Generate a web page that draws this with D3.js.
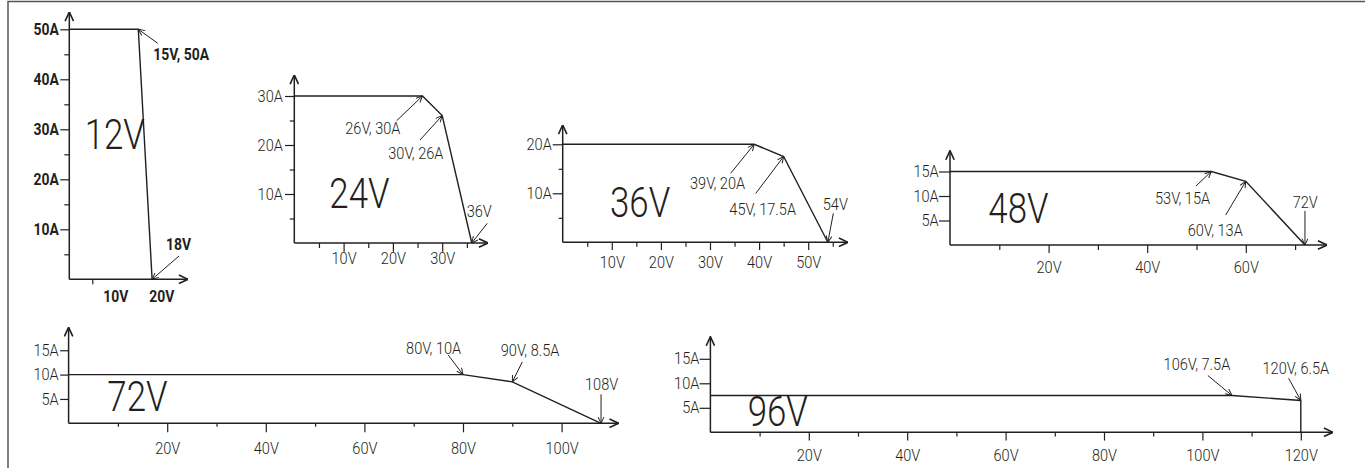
<!DOCTYPE html>
<html>
<head>
<meta charset="utf-8">
<script src="https://cdn.jsdelivr.net/npm/d3@7"></script>
<style>
    html, body { margin: 0; padding: 0; background: #fff; }
    svg { display: block; }
    text {
        font-family: Roboto, "Liberation Sans", sans-serif;
        font-size: 16px;
        font-weight: 300;
        fill: #231f20;
    }
    .bold text { font-weight: bold; }
    text.big { font-size: 42px; font-weight: 300; }
</style>
</head>
<body>
<svg id="chart" width="1365" height="468"></svg>
<script>
(function (d3) {
    'use strict';

    // Output voltage of each supply (panel label)
    var panelNames = ['12V', '24V', '36V', '48V', '72V', '96V'];

    // V/I curves, [volts, amps]
    var curve12 = [[0, 50], [15, 50], [18, 0]];
    var curve24 = [[0, 30], [26, 30], [30, 26], [36, 0]];
    var curve36 = [[0, 20], [39, 20], [45, 17.5], [54, 0]];
    var curve48 = [[0, 15], [53, 15], [60, 13], [72, 0]];
    var curve72 = [[0, 10], [80, 10], [90, 8.5], [108, 0]];
    var curve96 = [[0, 7.5], [106, 7.5], [120, 6.5], [120, 0]];

    // Corner point callouts
    var notes12 = [{v: 15, a: 50, text: '15V, 50A'}, {v: 18, a: 0, text: '18V'}];
    var notes24 = [{v: 26, a: 30, text: '26V, 30A'}, {v: 30, a: 26, text: '30V, 26A'}, {v: 36, a: 0, text: '36V'}];
    var notes36 = [{v: 39, a: 20, text: '39V, 20A'}, {v: 45, a: 17.5, text: '45V, 17.5A'}, {v: 54, a: 0, text: '54V'}];
    var notes48 = [{v: 53, a: 15, text: '53V, 15A'}, {v: 60, a: 13, text: '60V, 13A'}, {v: 72, a: 0, text: '72V'}];
    var notes72 = [{v: 80, a: 10, text: '80V, 10A'}, {v: 90, a: 8.5, text: '90V, 8.5A'}, {v: 108, a: 0, text: '108V'}];
    var notes96 = [{v: 106, a: 7.5, text: '106V, 7.5A'}, {v: 120, a: 6.5, text: '120V, 6.5A'}];

    // Tick values
    var yTicks12 = [10, 20, 30, 40, 50], yMinor12 = [5, 15, 25, 35, 45];
    var xTicks12 = [10, 20], xMinor12 = [5];
    var yTicks24 = [10, 20, 30], yMinor24 = [5, 15, 25];
    var xTicks24 = [10, 20, 30], xMinor24 = [5, 15, 25, 35];
    var yTicks36 = [10, 20], yMinor36 = [5, 15];
    var xTicks36 = [10, 20, 30, 40, 50], xMinor36 = [5, 15, 25, 35, 45, 55];
    var yTicks48 = [5, 10, 15], yMinor48 = [];
    var xTicks48 = [20, 40, 60], xMinor48 = [10, 30, 50, 70];
    var yTicks72 = [5, 10, 15], yMinor72 = [];
    var xTicks72 = [20, 40, 60, 80, 100], xMinor72 = [10, 30, 50, 70, 90];
    var yTicks96 = [5, 10, 15], yMinor96 = [];
    var xTicks96 = [20, 40, 60, 80, 100, 120], xMinor96 = [10, 30, 50, 70, 90, 110];

    var panels = [
        {curve: curve12, notes: notes12, yTicks: yTicks12, yMinor: yMinor12, xTicks: xTicks12, xMinor: xMinor12},
        {curve: curve24, notes: notes24, yTicks: yTicks24, yMinor: yMinor24, xTicks: xTicks24, xMinor: xMinor24},
        {curve: curve36, notes: notes36, yTicks: yTicks36, yMinor: yMinor36, xTicks: xTicks36, xMinor: xMinor36},
        {curve: curve48, notes: notes48, yTicks: yTicks48, yMinor: yMinor48, xTicks: xTicks48, xMinor: xMinor48},
        {curve: curve72, notes: notes72, yTicks: yTicks72, yMinor: yMinor72, xTicks: xTicks72, xMinor: xMinor72},
        {curve: curve96, notes: notes96, yTicks: yTicks96, yMinor: yMinor96, xTicks: xTicks96, xMinor: xMinor96}
    ];

    // Layout of each panel: origin, pixels per volt / amp, axis lengths, ticks, callout offsets
    var layouts = [
        {x0: 69.3, y0: 279.3, kx: 4.6, ky: 5.0, xLen: 118.7, yLen: 267.3, ySize: 9, yPad: 3, yMinorSize: 5,
            xSize: 0, xMinorSize: 5, labelGap: 22.4, big: [15.4, -130], bold: true,
            notes: [{tx: 19.4, ty: 14, lx: 15, ly: 30.7}, {tx: 26.9, ty: -23.3, lx: 13.9, ly: -29.3}]},
        {x0: 294.3, y0: 243, kx: 4.93, ky: 4.9, xLen: 193.7, yLen: 168, ySize: 9.3, yPad: 3.3, yMinorSize: 4.5,
            xSize: 8.7, xMinorSize: 5, labelGap: 21, big: [35, -34.7],
            notes: [{tx: -25.8, ty: 24.7, lx: -77.2, ly: 38}, {tx: -22.2, ty: 24.4, lx: -53.9, ly: 43.7},
                {tx: 15.5, ty: -19.7, lx: -5.1, ly: -25.7}]},
        {x0: 562.7, y0: 242.3, kx: 4.91, ky: 4.9, xLen: 285.3, yLen: 117.3, ySize: 10, yPad: 2, yMinorSize: 4,
            xSize: 7.7, xMinorSize: 4.5, labelGap: 25.4, big: [47.3, -25.6],
            notes: [{tx: -23.5, ty: 29, lx: -64.2, ly: 45}, {tx: -27.9, ty: 36.8, lx: -54.3, ly: 58.5},
                {tx: 5.5, ty: -29, lx: -5.1, ly: -32.3}]},
        {x0: 950, y0: 245, kx: 4.93, ky: 4.9, xLen: 377, yLen: 94.3, ySize: 11, yPad: 1.5, yMinorSize: 0,
            xSize: 8, xMinorSize: 5, labelGap: 28.3, big: [38.3, -22.3],
            notes: [{tx: -15.3, ty: 14.5, lx: -56.3, ly: 32.5}, {tx: -20.1, ty: 33.7, lx: -58.1, ly: 54.7},
                {tx: 0, ty: -34, lx: -12.3, ly: -37.3}]},
        {x0: 68.6, y0: 423.3, kx: 4.93, ky: 4.87, xLen: 550, yLen: 96, ySize: 8.4, yPad: 2.5, yMinorSize: 0,
            xSize: 9, xMinorSize: 3.5, labelGap: 30.7, big: [38.7, -12.6],
            notes: [{tx: -14.8, ty: -19.6, lx: -56.9, ly: -20.6}, {tx: 10, ty: -20, lx: -11.5, ly: -25.9},
                {tx: 0, ty: -29, lx: -16, ly: -33.3}]},
        {x0: 710.4, y0: 432.3, kx: 4.92, ky: 4.9, xLen: 622.6, yLen: 95.6, ySize: 10.8, yPad: 1.4, yMinorSize: 0,
            xSize: 8.3, xMinorSize: 4.3, labelGap: 28.4, big: [37.3, -6.3],
            notes: [{tx: -24, ty: -20, lx: -68.3, ly: -25.6}, {tx: -12.2, ty: -22.2, lx: -38.3, ly: -26.5}]}
    ];

    var ink = '#231f20',
        narrow = 0.91,      // horizontal squeeze for a condensed face
        narrowBold = 0.87,
        narrowBig = 0.83;

    var svg = d3.select('#chart');

    // frame (cut by the picture at the right and bottom)
    svg.append('rect')
        .attr('x', 8).attr('y', 1.5)
        .attr('width', 1400).attr('height', 520)
        .attr('fill', 'none')
        .attr('stroke', '#555')
        .attr('stroke-width', 1.5);

    var defs = svg.append('defs');

    function addMarker(id, size, width) {
        defs.append('marker')
            .attr('id', id)
            .attr('viewBox', '0 0 10 10')
            .attr('refX', 9.6).attr('refY', 5)
            .attr('markerWidth', size).attr('markerHeight', size)
            .attr('markerUnits', 'userSpaceOnUse')
            .attr('orient', 'auto')
            .append('path')
            .attr('d', 'M0.5,0.8L9.6,5L0.5,9.2')
            .attr('fill', 'none')
            .attr('stroke', ink)
            .attr('stroke-width', width);
    }
    addMarker('axisHead', 10, 1.6);
    addMarker('noteHead', 7, 1.4);

    // text placed at (x, y) and squeezed sideways
    function squeezedText(g, x, y, s, str) {
        return g.append('text')
            .attr('transform', 'translate(' + x + ',' + y + ') scale(' + s + ',1)')
            .text(str);
    }

    function drawPanel(p, L, name) {
        var x = d3.scaleLinear().domain([0, 1]).range([L.x0, L.x0 + L.kx]),
            y = d3.scaleLinear().domain([0, 1]).range([L.y0, L.y0 - L.ky]),
            s = L.bold ? narrowBold : narrow;

        var g = svg.append('g').classed('bold', !!L.bold).attr('color', ink);

        // minor ticks
        if (p.yMinor.length) {
            g.append('g')
                .attr('transform', 'translate(' + L.x0 + ',0)')
                .call(d3.axisLeft(y).tickValues(p.yMinor).tickSize(L.yMinorSize).tickSizeOuter(0).tickFormat(''))
                .call(function (a) { a.select('.domain').remove(); });
        }
        g.append('g')
            .attr('transform', 'translate(0,' + L.y0 + ')')
            .call(d3.axisBottom(x).tickValues(p.xMinor).tickSize(L.xMinorSize).tickSizeOuter(0).tickFormat(''))
            .call(function (a) { a.select('.domain').remove(); });

        // major ticks + labels
        g.append('g')
            .attr('transform', 'translate(' + L.x0 + ',0)')
            .call(d3.axisLeft(y).tickValues(p.yTicks).tickSize(L.ySize).tickSizeOuter(0)
                .tickPadding(L.yPad).tickFormat(function (d) { return d + 'A'; }))
            .call(function (a) {
                a.select('.domain').remove();
                a.attr('font-family', null).attr('font-size', null);
                a.selectAll('text').attr('transform', 'scale(' + s + ',1)');
            });

        g.append('g')
            .attr('transform', 'translate(0,' + L.y0 + ')')
            .call(d3.axisBottom(x).tickValues(p.xTicks).tickSize(L.xSize).tickSizeOuter(0)
                .tickFormat(function (d) { return d + 'V'; }))
            .call(function (a) {
                a.select('.domain').remove();
                a.attr('font-family', null).attr('font-size', null);
                a.selectAll('text').attr('y', L.labelGap).attr('dy', null)
                    .attr('transform', 'scale(' + s + ',1)');
            });

        g.selectAll('.tick line').attr('stroke-width', 1.2);

        // axes with arrow heads
        g.append('line')
            .attr('x1', L.x0).attr('y1', L.y0)
            .attr('x2', L.x0 + L.xLen).attr('y2', L.y0)
            .attr('stroke', ink).attr('stroke-width', 1.5)
            .attr('marker-end', 'url(#axisHead)');
        g.append('line')
            .attr('x1', L.x0).attr('y1', L.y0)
            .attr('x2', L.x0).attr('y2', L.y0 - L.yLen)
            .attr('stroke', ink).attr('stroke-width', 1.5)
            .attr('marker-end', 'url(#axisHead)');

        // V/I curve
        g.append('path')
            .datum(p.curve)
            .attr('d', d3.line()
                .x(function (d) { return x(d[0]); })
                .y(function (d) { return y(d[1]); }))
            .attr('fill', 'none')
            .attr('stroke', ink)
            .attr('stroke-width', 1.4);

        // callouts
        p.notes.forEach(function (n, i) {
            var o = L.notes[i],
                px = x(n.v),
                py = y(n.a);
            g.append('line')
                .attr('x1', px + o.tx).attr('y1', py + o.ty)
                .attr('x2', px).attr('y2', py)
                .attr('stroke', ink).attr('stroke-width', 1)
                .attr('marker-end', 'url(#noteHead)');
            squeezedText(g, px + o.lx, py + o.ly, s, n.text);
        });

        // big supply label
        squeezedText(g, L.x0 + L.big[0], L.y0 + L.big[1], narrowBig, name)
            .attr('class', 'big');
    }

    for (var i = 0; i < panels.length; i++) {
        drawPanel(panels[i], layouts[i], panelNames[i]);
    }

})(d3);
</script>
</body>
</html>
